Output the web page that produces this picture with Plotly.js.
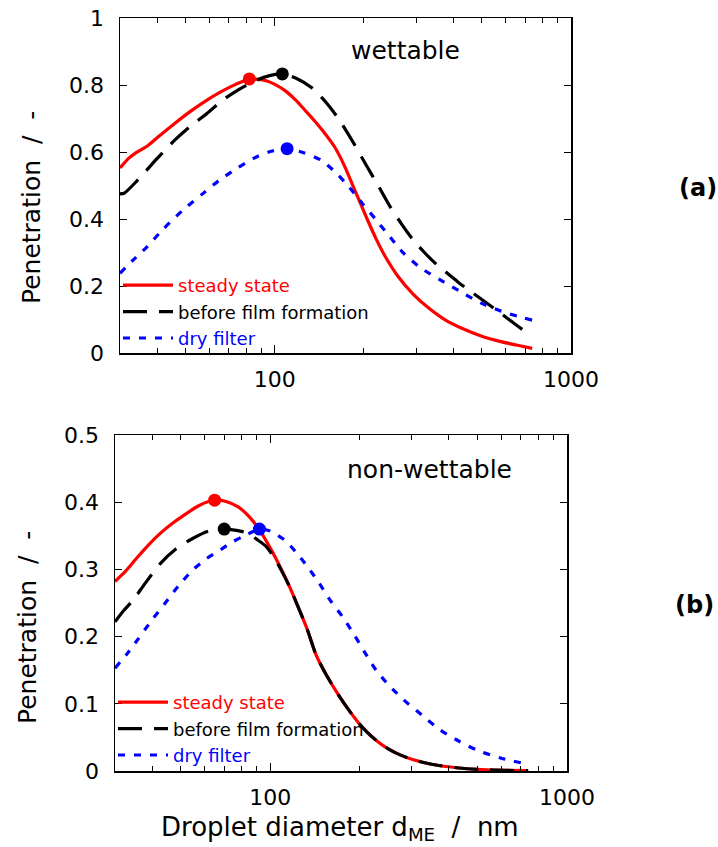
<!DOCTYPE html>
<html>
<head>
<meta charset="utf-8">
<script src="https://cdn.plot.ly/plotly-3.0.1.min.js"></script>
<style>html,body{margin:0;padding:0;background:#fff;}#chart{width:718px;height:847px;}</style>
</head>
<body>
<div id="chart"></div>
<script>
// ---------- data: panel (a) wettable ----------
const aSteadyX = [30, 32, 34, 37, 41, 46, 52, 59, 65, 71, 77, 82, 88, 94, 100, 108, 117, 126, 134, 145, 160, 172, 184, 195, 205, 220, 236, 260, 293, 330, 376, 430, 500, 580, 660, 740];
const aSteadyY = [0.552, 0.580, 0.598, 0.617, 0.650, 0.686, 0.722, 0.755, 0.777, 0.795, 0.809, 0.816, 0.817, 0.812, 0.802, 0.784, 0.757, 0.726, 0.700, 0.664, 0.612, 0.558, 0.497, 0.445, 0.400, 0.340, 0.288, 0.230, 0.176, 0.135, 0.099, 0.073, 0.050, 0.034, 0.023, 0.014];
const aBeforeX = [30, 31, 34.4, 40, 46, 52, 59, 66, 75, 87, 96, 106, 118, 134, 150, 165, 185, 205, 225, 245, 268, 293, 320, 350, 385, 418, 465, 518, 580, 650, 740];
const aBeforeY = [0.475, 0.477, 0.516, 0.580, 0.636, 0.678, 0.715, 0.752, 0.785, 0.815, 0.828, 0.833, 0.820, 0.790, 0.745, 0.696, 0.625, 0.556, 0.495, 0.437, 0.385, 0.338, 0.300, 0.266, 0.236, 0.210, 0.180, 0.150, 0.118, 0.085, 0.050];
const aDryX = [30, 33, 37, 42, 49, 57, 65, 75, 87, 98, 110, 125, 143, 160, 178, 198, 220, 245, 272, 310, 362, 420, 500, 580, 660, 740];
const aDryY = [0.238, 0.275, 0.317, 0.370, 0.427, 0.475, 0.516, 0.553, 0.586, 0.603, 0.609, 0.598, 0.576, 0.540, 0.496, 0.445, 0.397, 0.346, 0.298, 0.255, 0.218, 0.185, 0.148, 0.125, 0.110, 0.098];
const aPeakX = [82, 106, 110];
const aPeakY = [0.818, 0.833, 0.610];

// ---------- data: panel (b) non-wettable ----------
const bSteadyX = [30, 32.5, 35.7, 39, 42.7, 47, 51, 57, 62, 66, 71, 78, 86, 93.5, 100, 108, 116, 124, 133, 143, 155, 170, 186, 200, 212, 230, 250, 274, 302, 350, 432, 520, 620, 740];
const bSteadyY = [0.282, 0.297, 0.318, 0.337, 0.354, 0.369, 0.380, 0.394, 0.401, 0.403, 0.401, 0.393, 0.376, 0.354, 0.332, 0.304, 0.275, 0.245, 0.212, 0.172, 0.142, 0.113, 0.088, 0.070, 0.058, 0.044, 0.033, 0.024, 0.017, 0.010, 0.0045, 0.002, 0.001, 0.0005];
const bBeforeX = [30, 32, 34.5, 38, 42.7, 48, 54.8, 62, 70, 77, 84, 90, 97, 104, 111.6, 116, 124, 133, 143, 155, 170, 186, 200, 212, 230, 250, 274, 302, 350, 432, 520, 620, 740];
const bBeforeY = [0.222, 0.238, 0.254, 0.280, 0.309, 0.330, 0.346, 0.357, 0.360, 0.358, 0.354, 0.345, 0.334, 0.315, 0.290, 0.275, 0.245, 0.212, 0.172, 0.142, 0.113, 0.088, 0.070, 0.058, 0.044, 0.033, 0.024, 0.017, 0.010, 0.0045, 0.002, 0.001, 0.0005];
const bDryX = [30, 33, 35.7, 40, 44.3, 49, 54.8, 61, 68, 74, 81, 92.6, 100, 111.6, 122, 133.6, 146, 159.4, 175, 190.5, 208, 227.4, 252, 281.8, 325, 374.5, 430, 498, 600, 740];
const bDryY = [0.153, 0.175, 0.195, 0.225, 0.250, 0.275, 0.299, 0.316, 0.329, 0.340, 0.349, 0.360, 0.357, 0.344, 0.326, 0.304, 0.280, 0.254, 0.230, 0.205, 0.177, 0.150, 0.127, 0.106, 0.083, 0.061, 0.045, 0.031, 0.019, 0.010];
const bPeakX = [65, 70, 92];
const bPeakY = [0.403, 0.360, 0.360];

// ---------- labels ----------
const seriesNames = ['steady state', 'before film formation', 'dry filter'];
const seriesColors = ['#ff0000', '#000000', '#0000ff'];
const seriesDash = ['solid', '24px,12px', '7px,9px'];
const xTickVals = [100, 1000];
const xTickText = ['100', '1000'];
const xMinorVals = [40, 50, 60, 70, 80, 90, 200, 300, 400, 500, 600, 700, 800, 900];
const panelTitles = ['wettable', 'non-wettable'];
const panelTags = ['(a)', '(b)'];
const yTitle = 'Penetration\u00A0\u00A0/\u00A0\u00A0-';
const xTitle = 'Droplet diameter d<sub>ME</sub>\u00A0\u00A0/\u00A0\u00A0nm';

const FONT = 'DejaVu Sans, sans-serif';
const W = 718, H = 847;
const px = v => v / W, py = v => 1 - v / H;

function lineTrace(x, y, i, xa, ya, leg) {
  return {
    x: x, y: y, type: 'scatter', mode: 'lines', xaxis: xa, yaxis: ya,
    name: '<span style="color:' + seriesColors[i] + '">' + seriesNames[i] + '</span>',
    legend: leg,
    line: {color: seriesColors[i], width: 3.2, dash: seriesDash[i], shape: 'spline', smoothing: 0.7},
    hoverinfo: 'skip'
  };
}
function peakTrace(x, y, xa, ya) {
  return {
    x: x, y: y, type: 'scatter', mode: 'markers', xaxis: xa, yaxis: ya, showlegend: false,
    marker: {color: seriesColors, size: 13, line: {width: 0}}, hoverinfo: 'skip'
  };
}

const data = [
  lineTrace(aSteadyX, aSteadyY, 0, 'x', 'y', 'legend'),
  lineTrace(aBeforeX, aBeforeY, 1, 'x', 'y', 'legend'),
  lineTrace(aDryX, aDryY, 2, 'x', 'y', 'legend'),
  peakTrace(aPeakX, aPeakY, 'x', 'y'),
  lineTrace(bSteadyX, bSteadyY, 0, 'x2', 'y2', 'legend2'),
  lineTrace(bBeforeX, bBeforeY, 1, 'x2', 'y2', 'legend2'),
  lineTrace(bDryX, bDryY, 2, 'x2', 'y2', 'legend2'),
  peakTrace(bPeakX, bPeakY, 'x2', 'y2')
];

function xAxis(domain, anchor) {
  return {
    type: 'log', range: [Math.log10(30), 3.0002], domain: domain, anchor: anchor,
    tickmode: 'array', tickvals: xTickVals, ticktext: xTickText,
    ticks: 'inside', ticklen: 8, tickwidth: 1, tickcolor: '#000',
    minor: {tickmode: 'array', tickvals: xMinorVals, ticks: 'inside', ticklen: 5, tickwidth: 1, tickcolor: '#000', showgrid: false},
    showline: true, linecolor: '#000', linewidth: 1.5, mirror: 'allticks',
    showgrid: false, zeroline: false, ticklabelstandoff: 6,
    tickfont: {family: FONT, size: 22, color: '#000'}, fixedrange: true
  };
}
function yAxis(domain, anchor, range, dtick) {
  return {
    range: range, domain: domain, anchor: anchor, dtick: dtick, tick0: 0,
    ticks: 'inside', ticklen: 7, tickwidth: 1, tickcolor: '#000',
    showline: true, linecolor: '#000', linewidth: 1.5, mirror: 'allticks',
    showgrid: false, zeroline: false, ticklabelstandoff: 10,
    tickfont: {family: FONT, size: 22, color: '#000'}, fixedrange: true
  };
}

const legendBase = {
  xanchor: 'left', yanchor: 'top', bgcolor: 'rgba(0,0,0,0)', borderwidth: 0,
  font: {family: FONT, size: 18, color: '#000'}, itemwidth: 50, tracegroupgap: 0,
  itemclick: false, itemdoubleclick: false
};

const layout = {
  width: W, height: H, margin: {l: 0, r: 0, t: 0, b: 0},
  paper_bgcolor: '#fff', plot_bgcolor: '#fff', showlegend: true,
  xaxis: xAxis([px(120), px(571)], 'y'),
  yaxis: yAxis([py(353), py(18)], 'x', [0, 1], 0.2),
  xaxis2: xAxis([px(115), px(567)], 'y2'),
  yaxis2: yAxis([py(771), py(435)], 'x2', [0, 0.5], 0.1),
  legend: Object.assign({}, legendBase, {x: px(118), y: py(267)}),
  legend2: Object.assign({}, legendBase, {x: px(113), y: py(684)}),
  annotations: [
    {text: panelTitles[0], xref: 'paper', yref: 'paper', x: px(405), y: py(50), showarrow: false, xanchor: 'center', yanchor: 'middle', font: {family: FONT, size: 25, color: '#000'}},
    {text: panelTitles[1], xref: 'paper', yref: 'paper', x: px(429), y: py(469), showarrow: false, xanchor: 'center', yanchor: 'middle', font: {family: FONT, size: 25, color: '#000'}},
    {text: '<b>' + panelTags[0] + '</b>', xref: 'paper', yref: 'paper', x: px(698), y: py(188), showarrow: false, xanchor: 'center', yanchor: 'middle', font: {family: FONT, size: 24, color: '#000'}},
    {text: '<b>' + panelTags[1] + '</b>', xref: 'paper', yref: 'paper', x: px(694), y: py(605), showarrow: false, xanchor: 'center', yanchor: 'middle', font: {family: FONT, size: 24, color: '#000'}},
    {text: yTitle, xref: 'paper', yref: 'paper', x: px(31), y: py(208), showarrow: false, textangle: -90, xanchor: 'center', yanchor: 'middle', font: {family: FONT, size: 25, color: '#000'}},
    {text: yTitle, xref: 'paper', yref: 'paper', x: px(27), y: py(628), showarrow: false, textangle: -90, xanchor: 'center', yanchor: 'middle', font: {family: FONT, size: 25, color: '#000'}},
    {text: xTitle, xref: 'paper', yref: 'paper', x: px(340), y: py(828), showarrow: false, xanchor: 'center', yanchor: 'middle', font: {family: FONT, size: 26, color: '#000'}}
  ]
};

Plotly.newPlot('chart', data, layout, {staticPlot: true, displayModeBar: false});
</script>
</body>
</html>
